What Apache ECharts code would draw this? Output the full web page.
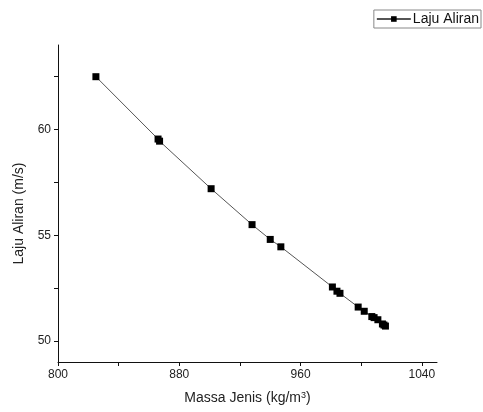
<!DOCTYPE html>
<html>
<head>
<meta charset="utf-8">
<script src="https://cdn.jsdelivr.net/npm/echarts@6/dist/echarts.min.js"></script>
<style>
    html, body { margin: 0; padding: 0; background: #fff; }
    #chart { width: 483px; height: 412px; }
</style>
</head>
<body>
<div id="chart"></div>
<script>
// density (kg/m3) vs flow rate (m/s)
const massaJenis = [825, 866, 867, 901, 928, 940, 947, 981, 984, 986, 998, 1002, 1007, 1008.5, 1011, 1014, 1015, 1016];
const lajuAliran = [62.5, 59.55, 59.45, 57.2, 55.5, 54.8, 54.45, 52.55, 52.35, 52.25, 51.6, 51.4, 51.15, 51.1, 51.0, 50.8, 50.75, 50.7];
const xTicks = [800, 840, 880, 920, 960, 1000, 1040];
const xLabels = [800, 880, 960, 1040];
const yTicks = [50, 52.5, 55, 57.5, 60, 62.5];
const yLabels = [50, 55, 60];

initChart();

function initChart() {
    let chart = echarts.init(document.getElementById('chart'));
    let points = massaJenis.map(function (x, i) {
        return [x, lajuAliran[i]];
    });
    let option = {
        animation: false,
        textStyle: {
            fontFamily: 'Liberation Sans'
        },
        grid: {
            left: 58,
            right: 46,
            top: 45,
            bottom: 50
        },
        legend: {
            right: 2,
            top: 10,
            padding: [2, 2, 2, 2],
            borderColor: '#888',
            borderWidth: 1,
            borderRadius: 0,
            itemWidth: 34,
            itemHeight: 7,
            itemGap: 0,
            textStyle: {
                fontSize: 14,
                color: '#111',
                padding: [0, 0, 0, -3]
            },
            data: ['Laju Aliran']
        },
        xAxis: {
            type: 'value',
            min: 800,
            max: 1050,
            name: 'Massa Jenis (kg/m{s|3})',
            nameLocation: 'middle',
            nameGap: 29,
            nameTextStyle: {
                fontSize: 14,
                color: '#222',
                rich: {
                    s: {
                        fontSize: 9,
                        color: '#222',
                        verticalAlign: 'top',
                        padding: [0, 0, 6, 0]
                    }
                }
            },
            axisLine: {
                onZero: false,
                lineStyle: { color: '#111', width: 1 }
            },
            axisTick: {
                length: 4,
                customValues: xTicks,
                lineStyle: { color: '#111' }
            },
            axisLabel: {
                customValues: xLabels,
                fontSize: 12,
                color: '#222',
                margin: 7,
                formatter: function (v) { return String(v); }
            },
            splitLine: { show: false }
        },
        yAxis: {
            type: 'value',
            min: 49,
            max: 64,
            name: 'Laju Aliran (m/s)',
            nameLocation: 'middle',
            nameGap: 32,
            nameTextStyle: {
                fontSize: 14,
                color: '#222',
                padding: [0, 0, 0, -20]
            },
            axisLine: {
                show: true,
                onZero: false,
                lineStyle: { color: '#111', width: 1 }
            },
            axisTick: {
                show: true,
                length: 4,
                customValues: yTicks,
                lineStyle: { color: '#111' }
            },
            axisLabel: {
                customValues: yLabels,
                fontSize: 12,
                color: '#222',
                margin: 7,
                formatter: function (v) { return String(v); }
            },
            splitLine: { show: false }
        },
        series: [
            {
                name: 'Laju Aliran',
                type: 'line',
                data: points,
                symbol: 'rect',
                symbolSize: 7,
                showAllSymbol: true,
                lineStyle: {
                    color: '#555',
                    width: 1
                },
                itemStyle: {
                    color: '#000'
                }
            }
        ]
    };
    chart.setOption(option);
}
</script>
</body>
</html>
